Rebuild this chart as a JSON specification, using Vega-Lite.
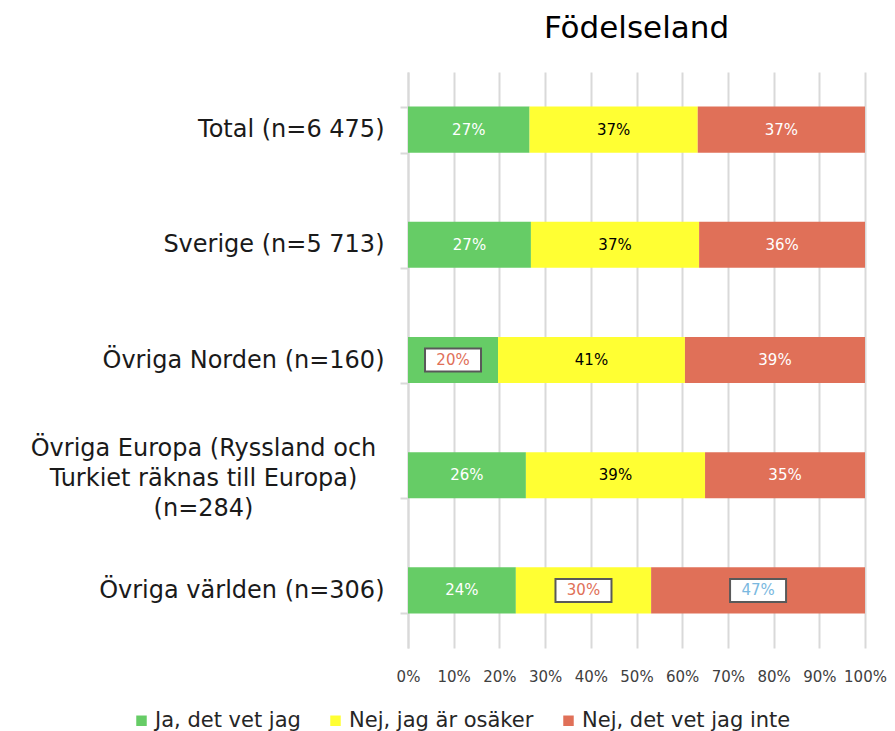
{
  "$schema": "https://vega.github.io/schema/vega-lite/v6.json",
  "width": 457,
  "height": 576,
  "autosize": {"type": "none"},
  "padding": {"left": 408, "top": 72, "right": 30, "bottom": 83},
  "background": "white",
  "title": {
    "text": "Födelseland",
    "font": "DejaVu Sans",
    "fontSize": 31,
    "fontWeight": "normal",
    "color": "#000000",
    "offset": 15
  },
  "config": {
    "view": {"stroke": null},
    "font": "DejaVu Sans"
  },
  "data": {
    "values": [
      {"cat": "Total (n=6 475)", "answer": "Ja, det vet jag", "i": 1, "value": 26.6, "label": "27%", "sig": "none"},
      {"cat": "Total (n=6 475)", "answer": "Nej, jag är osäker", "i": 2, "value": 36.8, "label": "37%", "sig": "none"},
      {"cat": "Total (n=6 475)", "answer": "Nej, det vet jag inte", "i": 3, "value": 36.6, "label": "37%", "sig": "none"},
      {"cat": "Sverige (n=5 713)", "answer": "Ja, det vet jag", "i": 1, "value": 26.9, "label": "27%", "sig": "none"},
      {"cat": "Sverige (n=5 713)", "answer": "Nej, jag är osäker", "i": 2, "value": 36.8, "label": "37%", "sig": "none"},
      {"cat": "Sverige (n=5 713)", "answer": "Nej, det vet jag inte", "i": 3, "value": 36.3, "label": "36%", "sig": "none"},
      {"cat": "Övriga Norden (n=160)", "answer": "Ja, det vet jag", "i": 1, "value": 19.7, "label": "20%", "sig": "lower"},
      {"cat": "Övriga Norden (n=160)", "answer": "Nej, jag är osäker", "i": 2, "value": 40.9, "label": "41%", "sig": "none"},
      {"cat": "Övriga Norden (n=160)", "answer": "Nej, det vet jag inte", "i": 3, "value": 39.4, "label": "39%", "sig": "none"},
      {"cat": "Övriga Europa (Ryssland och|Turkiet räknas till Europa)|(n=284)", "answer": "Ja, det vet jag", "i": 1, "value": 25.8, "label": "26%", "sig": "none"},
      {"cat": "Övriga Europa (Ryssland och|Turkiet räknas till Europa)|(n=284)", "answer": "Nej, jag är osäker", "i": 2, "value": 39.2, "label": "39%", "sig": "none"},
      {"cat": "Övriga Europa (Ryssland och|Turkiet räknas till Europa)|(n=284)", "answer": "Nej, det vet jag inte", "i": 3, "value": 35.0, "label": "35%", "sig": "none"},
      {"cat": "Övriga världen (n=306)", "answer": "Ja, det vet jag", "i": 1, "value": 23.6, "label": "24%", "sig": "none"},
      {"cat": "Övriga världen (n=306)", "answer": "Nej, jag är osäker", "i": 2, "value": 29.6, "label": "30%", "sig": "lower"},
      {"cat": "Övriga världen (n=306)", "answer": "Nej, det vet jag inte", "i": 3, "value": 46.8, "label": "47%", "sig": "higher"}
    ]
  },
  "encoding": {
    "y": {
      "field": "cat",
      "type": "nominal",
      "sort": null,
      "scale": {"paddingInner": 0.6, "paddingOuter": 0.3},
      "axis": {
        "title": null,
        "labelExpr": "split(datum.label, '|')",
        "labelFont": "DejaVu Sans",
        "labelFontSize": 24,
        "labelColor": "#1a1a1a",
        "labelLineHeight": 30,
        "labelPadding": {"condition": {"test": "datum.value === 'Övriga Europa (Ryssland och|Turkiet räknas till Europa)|(n=284)'", "value": 197}, "value": 16},
        "labelAlign": {"condition": {"test": "datum.value === 'Övriga Europa (Ryssland och|Turkiet räknas till Europa)|(n=284)'", "value": "center"}, "value": "right"},
        "labelOffset": {"condition": {"test": "datum.value === 'Övriga Europa (Ryssland och|Turkiet räknas till Europa)|(n=284)'", "value": -27}, "value": 0},
        "labelLimit": 500,
        "tickBand": "extent",
        "tickSize": 8,
        "tickColor": "#D9D9D9",
        "tickWidth": 2,
        "domainColor": "#D9D9D9",
        "domainWidth": 2,
        "grid": false
      }
    }
  },
  "layer": [
    {
      "mark": {"type": "bar"},
      "encoding": {
        "x": {
          "field": "value",
          "type": "quantitative",
          "stack": "zero",
          "scale": {"domain": [0, 100], "nice": false},
          "axis": {
            "title": null,
            "values": [0, 10, 20, 30, 40, 50, 60, 70, 80, 90, 100],
            "labelExpr": "datum.value + '%'",
            "labelFont": "DejaVu Sans",
            "labelFontSize": 15,
            "labelColor": "#404040",
            "labelPadding": 21,
            "labelFlush": false,
            "labelOverlap": false,
            "domain": false,
            "ticks": false,
            "grid": true,
            "gridColor": "#D9D9D9",
            "gridWidth": 2
          }
        },
        "order": {"field": "i", "type": "quantitative"},
        "color": {
          "field": "answer",
          "type": "nominal",
          "scale": {
            "domain": ["Ja, det vet jag", "Nej, jag är osäker", "Nej, det vet jag inte"],
            "range": ["#66CC66", "#FFFF33", "#E07058"]
          },
          "legend": {
            "title": null,
            "orient": "none",
            "direction": "horizontal",
            "legendX": -277,
            "legendY": 638,
            "symbolType": "square",
            "symbolSize": 110,
            "symbolStrokeWidth": 0,
            "labelFont": "DejaVu Sans",
            "labelFontSize": 21,
            "labelColor": "#262626",
            "labelOffset": 3,
            "columnPadding": 24,
            "labelLimit": 400
          }
        }
      }
    },
    {
      "mark": {
        "type": "point",
        "shape": "M-1,-0.41H1V0.41H-1Z",
        "size": 3136,
        "filled": false,
        "fill": "white",
        "stroke": "#595959",
        "strokeWidth": 2
      },
      "encoding": {
        "x": {"field": "value", "type": "quantitative", "stack": "zero", "bandPosition": 0.5},
        "order": {"field": "i", "type": "quantitative"},
        "opacity": {
          "condition": {"test": "datum.sig !== 'none'", "value": 1},
          "value": 0
        }
      }
    },
    {
      "mark": {"type": "text", "font": "DejaVu Sans", "fontSize": 15},
      "encoding": {
        "x": {"field": "value", "type": "quantitative", "stack": "zero", "bandPosition": 0.5},
        "order": {"field": "i", "type": "quantitative"},
        "text": {"field": "label"},
        "color": {
          "condition": [
            {"test": "datum.sig === 'lower'", "value": "#E07058"},
            {"test": "datum.sig === 'higher'", "value": "#7AB8E0"},
            {"test": "datum.answer === 'Nej, jag är osäker'", "value": "#000000"}
          ],
          "value": "#FFFFFF"
        }
      }
    }
  ]
}
